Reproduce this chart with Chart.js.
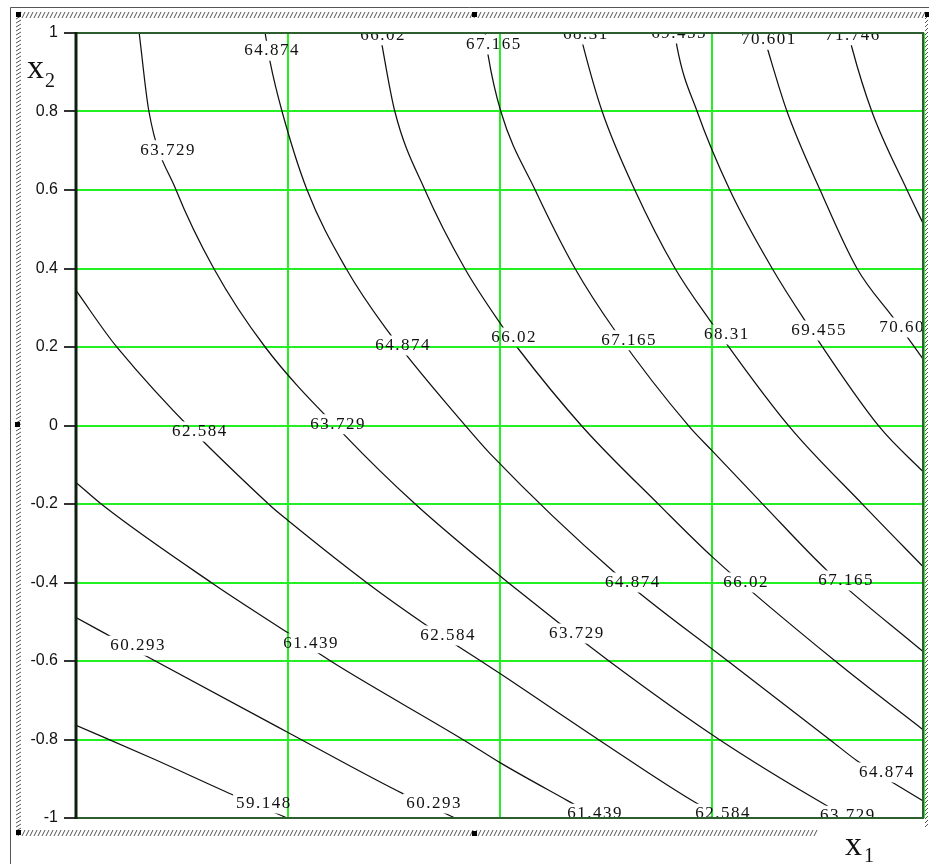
<!DOCTYPE html>
<html>
<head>
<meta charset="utf-8">
<script src="https://cdn.jsdelivr.net/npm/chart.js@4.4.1/dist/chart.umd.min.js"></script>
<style>
  html, body { margin: 0; padding: 0; background: #fff; }
  #wrap { width: 929px; height: 864px; position: relative; }
</style>
</head>
<body>
<div id="wrap"><canvas id="contourChart"></canvas></div>
<script>
// Curvas de nivel: pares [x1, x2]
const line59148 = [[-1, -0.764], [-0.818, -0.849], [-0.632, -0.940], [-0.502, -1]];
const line60293 = [[-1, -0.489], [-0.837, -0.586], [-0.5, -0.782], [-0.229, -0.938], [-0.106, -1]];
const line61439 = [[-1, -0.145], [-0.936, -0.204], [-0.677, -0.403], [-0.502, -0.527], [-0.394, -0.604], [-0.083, -0.803], [0, -0.859], [0.158, -0.955], [0.233, -1]];
const line62584 = [[-1, 0.344], [-0.903, 0.199], [-0.542, -0.204], [-0.5, -0.242], [-0.311, -0.403], [-0.172, -0.510], [0, -0.632], [0.236, -0.803], [0.465, -0.963], [0.531, -1]];
const line63729 = [[-0.851, 1], [-0.828, 0.8], [-0.764, 0.6], [-0.675, 0.4], [-0.554, 0.2], [-0.366, -0.025], [-0.2, -0.2], [0.019, -0.4], [0.257, -0.6], [0.517, -0.8], [0.762, -0.963], [0.825, -1]];
const line64874 = [[-0.554, 1], [-0.542, 0.925], [-0.514, 0.8], [-0.455, 0.6], [-0.363, 0.4], [-0.271, 0.25], [-0.078, -0.005], [-0.024, -0.071], [0.271, -0.375], [0.542, -0.604], [0.781, -0.803], [0.842, -0.854], [0.927, -0.91], [1, -0.958]];
const line66020 = [[-0.283, 1], [-0.278, 0.968], [-0.248, 0.8], [-0.177, 0.6], [-0.083, 0.4], [0.007, 0.25], [0.04, 0.2], [0.196, -0.005], [0.377, -0.204], [0.5, -0.334], [0.795, -0.604], [1, -0.777]];
const line67165 = [[-0.035, 1], [-0.028, 0.943], [0.002, 0.8], [0.083, 0.6], [0.177, 0.4], [0.271, 0.242], [0.448, -0.005], [0.5, -0.064], [0.623, -0.204], [0.771, -0.369], [1, -0.578]];
const line68310 = [[0.189, 1], [0.196, 0.968], [0.241, 0.8], [0.318, 0.6], [0.413, 0.4], [0.495, 0.268], [0.684, -0.005], [0.858, -0.204], [1, -0.362]];
const line69455 = [[0.413, 1], [0.417, 0.968], [0.465, 0.8], [0.542, 0.6], [0.642, 0.4], [0.719, 0.268], [0.896, -0.005], [1, -0.12]];
const line70601 = [[0.62, 1], [0.63, 0.963], [0.677, 0.8], [0.755, 0.6], [0.842, 0.4], [0.932, 0.268], [1, 0.166]];
const line71746 = [[0.822, 1], [0.83, 0.963], [0.877, 0.8], [0.96, 0.6], [1, 0.51]];

const curves = [line59148, line60293, line61439, line62584, line63729, line64874,
                line66020, line67165, line68310, line69455, line70601, line71746];

// Etiquetas de las curvas (texto y posicion en x1, x2)
const labelText = ['64.874', '66.02', '67.165', '68.31', '69.455', '70.601', '71.746',
                   '63.729', '64.874', '66.02', '67.165', '68.31', '69.455', '70.601',
                   '62.584', '63.729', '64.874', '66.02', '67.165',
                   '60.293', '61.439', '62.584', '63.729', '64.874',
                   '59.148', '60.293', '61.439', '62.584', '63.729'];
const labelX1 = [-0.540, -0.278, -0.017, 0.200, 0.420, 0.632, 0.830,
                 -0.785, -0.231, 0.031, 0.302, 0.533, 0.750, 0.958,
                 -0.710, -0.384, 0.311, 0.578, 0.814,
                 -0.856, -0.448, -0.125, 0.179, 0.910,
                 -0.559, -0.158, 0.222, 0.524, 0.818];
const labelX2 = [0.955, 0.994, 0.971, 0.996, 0.999, 0.983, 0.994,
                 0.701, 0.204, 0.224, 0.217, 0.232, 0.242, 0.250,
                 -0.015, 0.003, -0.400, -0.400, -0.395,
                 -0.561, -0.555, -0.535, -0.530, -0.884,
                 -0.963, -0.963, -0.989, -0.989, -0.994];

// Ticks
const yTicks = [-1, -0.8, -0.6, -0.4, -0.2, 0, 0.2, 0.4, 0.6, 0.8, 1];
const yTickLabels = ['-1', '-0.8', '-0.6', '-0.4', '-0.2', '0', '0.2', '0.4', '0.6', '0.8', '1'];
const xGrid = [-1, -0.5, 0, 0.5, 1];

const GREEN = '#22f022';
const LABEL_FONT = '17px "Liberation Serif"';
const LABEL_SPACING = '1.5px';

// Marco estilo Mathcad (rayado, asas y titulos de ejes)
function hatchH(ctx, x0, x1, y0, y1) {
    for (let x = x0; x < x1; x += 4) {
        ctx.moveTo(x, y1);
        ctx.lineTo(x + 3, y0);
    }
}
function hatchV(ctx, x0, x1, y0, y1) {
    for (let y = y0; y < y1; y += 4) {
        ctx.moveTo(x0 + 1, y + 3);
        ctx.lineTo(x1 - 1, y);
    }
}

const framePlugin = {
    id: 'frame',
    beforeDraw(chart) {
        const ctx = chart.ctx;
        ctx.save();
        ctx.fillStyle = '#fff';
        ctx.fillRect(0, 0, chart.width, chart.height);
        // linea exterior
        ctx.strokeStyle = '#555';
        ctx.lineWidth = 1;
        ctx.beginPath();
        ctx.moveTo(10.5, 864);
        ctx.lineTo(10.5, 7.5);
        ctx.lineTo(929, 7.5);
        ctx.stroke();
        // rayado
        ctx.strokeStyle = '#555';
        ctx.beginPath();
        hatchH(ctx, 18, 925, 12, 18);
        hatchH(ctx, 18, 818, 830, 836);
        hatchV(ctx, 15, 22, 12, 834);
        hatchV(ctx, 924, 929, 12, 826);
        ctx.stroke();
        // asas
        ctx.fillStyle = '#000';
        [[16, 12], [472, 12], [15, 422], [16, 830], [472, 831], [925, 12]].forEach(p => {
            ctx.fillRect(p[0], p[1], 5, 5);
        });
        ctx.restore();
    },
    afterDraw(chart) {
        const ctx = chart.ctx;
        const a = chart.chartArea;
        ctx.save();
        // bordes del area de grafico
        ctx.strokeStyle = '#2d5e2d';
        ctx.lineWidth = 2;
        ctx.beginPath();
        ctx.moveTo(a.left, a.top);
        ctx.lineTo(a.right - 1, a.top);
        ctx.lineTo(a.right - 1, a.bottom);
        ctx.lineTo(a.left, a.bottom);
        ctx.stroke();
        ctx.strokeStyle = '#0c200c';
        ctx.lineWidth = 3;
        ctx.beginPath();
        ctx.moveTo(a.left, a.top - 1);
        ctx.lineTo(a.left, a.bottom + 1);
        ctx.stroke();
        // titulos de ejes
        ctx.fillStyle = '#111';
        ctx.textAlign = 'left';
        ctx.textBaseline = 'alphabetic';
        ctx.font = '34px "Liberation Serif"';
        ctx.fillText('x', 27, 78);
        ctx.fillText('x', 845, 855);
        ctx.font = '20px "Liberation Serif"';
        ctx.fillText('2', 45, 87);
        ctx.fillText('1', 864, 862);
        ctx.restore();
    }
};

// Cortes en las curvas donde van las etiquetas, y las etiquetas
const labelPlugin = {
    id: 'contourLabels',
    beforeDatasetsDraw(chart) {
        const ctx = chart.ctx;
        const sx = chart.scales.x, sy = chart.scales.y;
        ctx.save();
        ctx.font = LABEL_FONT;
        ctx.letterSpacing = LABEL_SPACING;
        ctx.beginPath();
        ctx.rect(0, 0, chart.width, chart.height);
        labelText.forEach((t, i) => {
            const w = ctx.measureText(t).width;
            const cx = sx.getPixelForValue(labelX1[i]);
            const cy = sy.getPixelForValue(labelX2[i]);
            ctx.rect(cx - w / 2 - 2, cy - 10, w + 4, 20);
        });
        ctx.clip('evenodd');
    },
    afterDatasetsDraw(chart) {
        const ctx = chart.ctx;
        const a = chart.chartArea;
        const sx = chart.scales.x, sy = chart.scales.y;
        ctx.restore();
        ctx.save();
        ctx.beginPath();
        ctx.rect(a.left, a.top, a.right - a.left, a.bottom - a.top);
        ctx.clip();
        ctx.font = LABEL_FONT;
        ctx.letterSpacing = LABEL_SPACING;
        ctx.fillStyle = '#111';
        ctx.textAlign = 'center';
        ctx.textBaseline = 'middle';
        labelText.forEach((t, i) => {
            ctx.fillText(t, sx.getPixelForValue(labelX1[i]) + 1, sy.getPixelForValue(labelX2[i]));
        });
        ctx.restore();
    }
};

const ctx = document.getElementById('contourChart').getContext('2d');
new Chart(ctx, {
    type: 'scatter',
    data: {
        datasets: curves.map((pts, i) => ({
            label: String(i),
            data: pts.map(p => ({ x: p[0], y: p[1] })),
            showLine: true,
            borderColor: '#111',
            borderWidth: 1.25,
            pointRadius: 0,
            cubicInterpolationMode: 'monotone',
            fill: false
        }))
    },
    options: {
        responsive: true,
        maintainAspectRatio: false,
        animation: false,
        layout: { padding: { top: 33, right: 5, bottom: 46, left: 0 } },
        plugins: {
            legend: { display: false },
            tooltip: { enabled: false }
        },
        scales: {
            x: {
                type: 'linear',
                min: -1,
                max: 1,
                afterBuildTicks: s => { s.ticks = xGrid.map(v => ({ value: v })); },
                afterFit: s => { s.height = 0; },
                ticks: { display: false },
                grid: { color: GREEN, lineWidth: 2, drawTicks: false },
                border: { display: false }
            },
            y: {
                type: 'linear',
                min: -1,
                max: 1,
                afterBuildTicks: s => { s.ticks = yTicks.map(v => ({ value: v })); },
                afterFit: s => { s.width = 76; },
                ticks: {
                    autoSkip: false,
                    padding: 6,
                    color: '#111',
                    font: { family: 'Liberation Sans', size: 16 },
                    callback: v => yTickLabels[yTicks.indexOf(v)]
                },
                grid: { color: GREEN, lineWidth: 2, tickLength: 12, tickColor: '#333', tickWidth: 2 },
                border: { display: false }
            }
        }
    },
    plugins: [framePlugin, labelPlugin]
});
</script>
</body>
</html>
